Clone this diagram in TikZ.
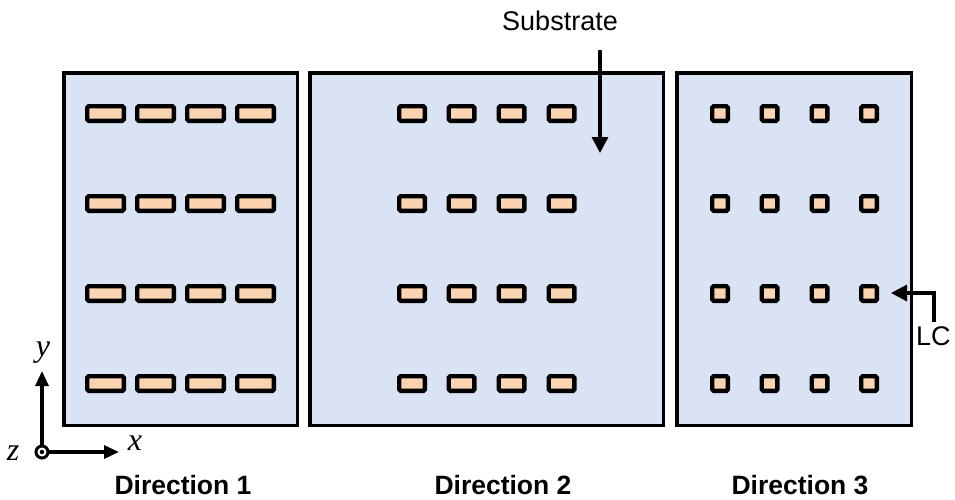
\documentclass[tikz,border=0pt]{standalone}
\usepackage{fontspec}
\setmainfont{Liberation Sans}
\newfontfamily\serifit{Liberation Serif}
\usetikzlibrary{arrows.meta}
\definecolor{panelfill}{HTML}{DAE3F3}
\definecolor{lcfill}{HTML}{FAD3B0}
\tikzset{
  panel/.style={draw=black, line width=3.5pt, fill=panelfill, rectangle, inner sep=0pt, minimum height=352.5pt},
  lcbar/.style={draw=black, line width=4.3pt, fill=lcfill, rectangle, rounded corners=1.5pt, inner sep=0pt, minimum height=14.7pt},
  lclong/.style={lcbar, minimum width=36.7pt},
  lcmid/.style={lcbar, minimum width=25.7pt},
  lcsq/.style={lcbar, minimum width=15.7pt},
  conn/.style={line width=3.3pt, -{Triangle[length=16pt,width=16pt]}},
  axis/.style={line width=3.3pt, -{Triangle[length=15pt,width=13pt]}},
  dirlabel/.style={font=\fontsize{26.5}{30}\selectfont\bfseries, inner sep=0pt, anchor=base},
  plainlabel/.style={font=\fontsize{27}{30}\selectfont, inner sep=0pt},
  axlabel/.style={font=\fontsize{32}{34}\selectfont\serifit\itshape, inner sep=0pt},
}
\begin{document}
\begin{tikzpicture}[x=1pt,y=-1pt]
\useasboundingbox (0,0) rectangle (955,499);
% panels
\node[panel, minimum width=233.5pt] (p1) at (180.5,249) {};
\node[panel, minimum width=353.5pt] (p2) at (486.5,249) {};
\node[panel, minimum width=234.5pt] (p3) at (794,249) {};
% LC bars
\foreach \r/\y in {1/113.5,2/203.5,3/293.5,4/383.5}{
  \foreach \c/\x in {1/105.5,2/155.5,3/205.5,4/255.5}{
    \node[lclong] (a\r\c) at (\x,\y) {};
  }
  \foreach \c/\x in {1/412,2/461.5,3/511.5,4/561.5}{
    \node[lcmid] (b\r\c) at (\x,\y) {};
  }
  \foreach \c/\x in {1/720,2/769.5,3/819.5,4/869}{
    \node[lcsq] (c\r\c) at (\x,\y) {};
  }
}
% Substrate label and arrow
\node[plainlabel, anchor=base] (sub) at (560,30) {Substrate};
\coordinate (substart) at (600,50);
\coordinate (subtip) at (600,153);
\draw[conn] (substart) -- (subtip);
% LC label and arrow
\node[plainlabel, anchor=base west] (lc) at (916,345) {LC};
\coordinate (lcstart) at (934,322);
\coordinate (lcbend) at (934,293);
\coordinate (lctip) at (891,293);
\draw[conn] (lcstart) -- (lcbend) -- (lctip);
% axes
\coordinate (origin) at (42,452);
\coordinate (ytip) at (42,371);
\coordinate (xtip) at (119,452);
\draw[axis] (origin) -- (ytip);
\draw[axis] (origin) -- (xtip);
\draw[line width=3pt, fill=white] (origin) circle (6pt);
\fill (origin) circle (2.2pt);
\node[axlabel] (ylab) at (43,353) {y};
\node[axlabel] (xlab) at (135,443) {x};
\node[axlabel] (zlab) at (13,453) {z};
% direction labels
\node[dirlabel] (d1) at (183,494) {Direction 1};
\node[dirlabel] (d2) at (503,494) {Direction 2};
\node[dirlabel] (d3) at (800,494) {Direction 3};
\end{tikzpicture}
\end{document}
